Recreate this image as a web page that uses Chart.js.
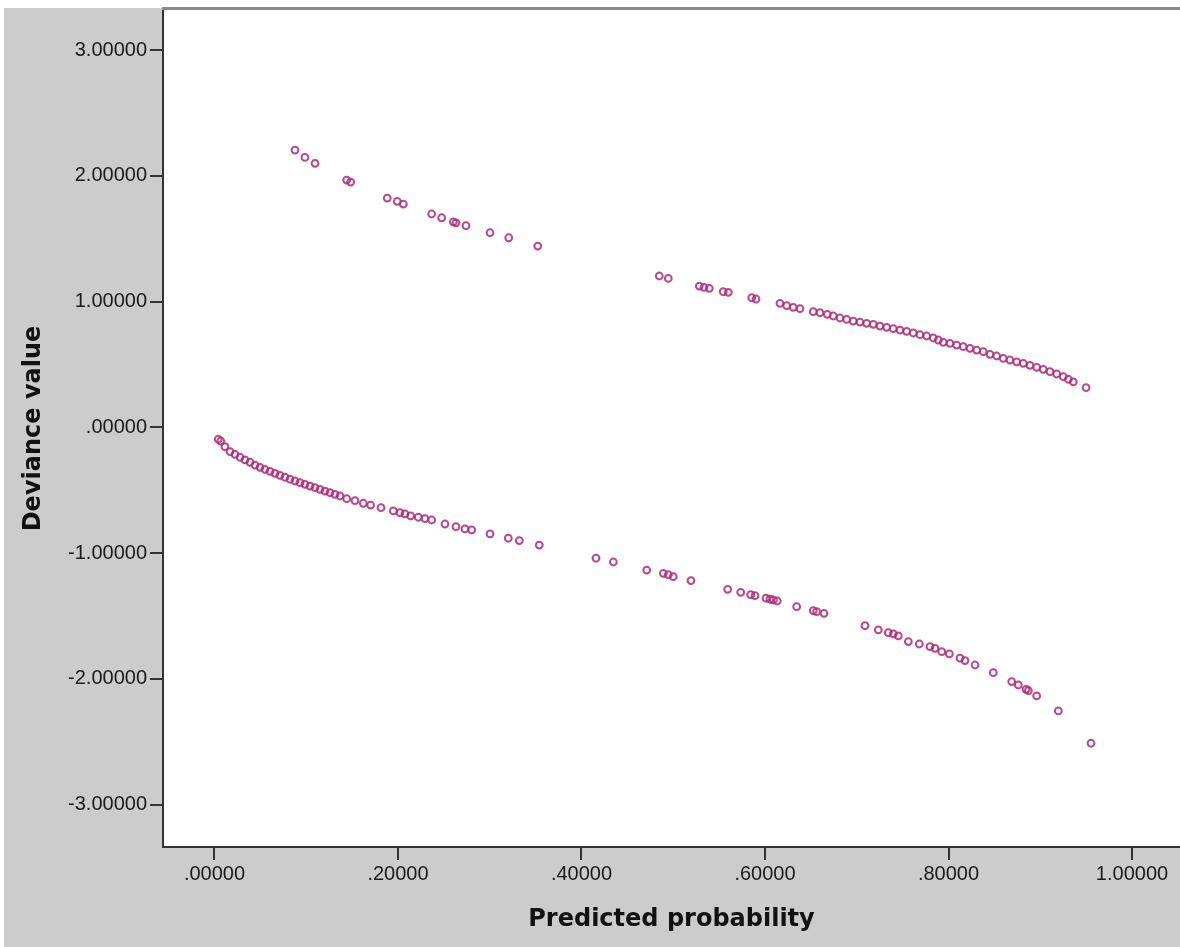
<!DOCTYPE html>
<html>
<head>
<meta charset="utf-8">
<script src="https://cdn.jsdelivr.net/npm/chart.js@4"></script>
<style>
  html, body { margin: 0; padding: 0; background: #ffffff; overflow: hidden; }
  #wrap { width: 1180px; height: 947px; position: relative; overflow: hidden; }
  canvas { display: block; }
</style>
</head>
<body>
<div id="wrap"><canvas id="myChart" width="1180" height="947"></canvas></div>
<script>
// observed = 1 cases (upper band)
const upperProb = [0.0877, 0.0986, 0.1096, 0.1441, 0.1484, 0.1883, 0.1992, 0.2058, 0.2367, 0.2476, 0.2603, 0.2632, 0.2741, 0.3003, 0.3207, 0.3523,
  0.4848, 0.4946, 0.5284, 0.5335, 0.5393, 0.5545, 0.5600, 0.5855, 0.5902, 0.6163, 0.6237, 0.6308, 0.6381,
  0.6526, 0.6599, 0.6679, 0.6744, 0.6817, 0.6890, 0.6962, 0.7035, 0.7108, 0.7180, 0.7253, 0.7326, 0.7398, 0.7471, 0.7544, 0.7616, 0.7689, 0.7762, 0.7834, 0.7889,
  0.7943, 0.8016, 0.8089, 0.8161, 0.8234, 0.8307, 0.8379, 0.8452, 0.8525, 0.8597, 0.8670, 0.8743, 0.8815, 0.8888, 0.8961, 0.9033, 0.9106, 0.9179, 0.9251, 0.9306, 0.9360, 0.9499];
const upperDev = [2.204, 2.146, 2.099, 1.966, 1.950, 1.823, 1.797, 1.775, 1.696, 1.666, 1.634, 1.626, 1.603, 1.547, 1.507, 1.441,
  1.203, 1.184, 1.123, 1.113, 1.105, 1.078, 1.073, 1.030, 1.020, 0.986, 0.967, 0.954, 0.943,
  0.919, 0.911, 0.898, 0.885, 0.869, 0.858, 0.845, 0.837, 0.827, 0.819, 0.805, 0.795, 0.784, 0.773, 0.763, 0.750, 0.736, 0.726, 0.710, 0.694,
  0.676, 0.668, 0.654, 0.641, 0.628, 0.614, 0.601, 0.580, 0.567, 0.548, 0.535, 0.521, 0.509, 0.493, 0.477, 0.461, 0.442, 0.424, 0.402, 0.382, 0.362, 0.315];

// observed = 0 cases (lower band)
const lowerProb = [0.0041, 0.0068, 0.0114, 0.0169, 0.0223, 0.0278, 0.0332, 0.0387, 0.0441, 0.0496, 0.0550, 0.0605, 0.0659, 0.0714, 0.0768, 0.0823, 0.0877, 0.0932, 0.0986, 0.1041, 0.1095, 0.1150, 0.1204, 0.1259, 0.1313, 0.1368,
  0.1441, 0.1531, 0.1622, 0.1702, 0.1815, 0.1949, 0.2022, 0.2076, 0.2138, 0.2221, 0.2294, 0.2367, 0.2512, 0.2632, 0.2730, 0.2803, 0.3003,
  0.3202, 0.3322, 0.3540, 0.4158, 0.4347, 0.4711, 0.4892, 0.4946, 0.5000,
  0.5193, 0.5593, 0.5735, 0.5844, 0.5891, 0.6011, 0.6054, 0.6090, 0.6134, 0.6345, 0.6526, 0.6563, 0.6643, 0.7090, 0.7235, 0.7344, 0.7398, 0.7453,
  0.7562, 0.7682, 0.7798, 0.7853, 0.7926, 0.8009, 0.8125, 0.8180, 0.8289, 0.8488, 0.8689, 0.8761, 0.8845, 0.8870, 0.8961, 0.9197, 0.9553];
const lowerDev = [-0.095, -0.109, -0.154, -0.194, -0.215, -0.238, -0.259, -0.278, -0.300, -0.318, -0.334, -0.350, -0.366, -0.382, -0.397, -0.413, -0.427, -0.440, -0.453, -0.467, -0.480, -0.493, -0.507, -0.520, -0.533, -0.546,
  -0.568, -0.583, -0.604, -0.618, -0.639, -0.665, -0.679, -0.689, -0.705, -0.715, -0.726, -0.737, -0.769, -0.790, -0.808, -0.816, -0.848,
  -0.882, -0.901, -0.936, -1.041, -1.071, -1.135, -1.161, -1.172, -1.188,
  -1.219, -1.288, -1.312, -1.331, -1.339, -1.359, -1.367, -1.373, -1.381, -1.426, -1.458, -1.466, -1.479, -1.577, -1.611, -1.633, -1.643, -1.659,
  -1.704, -1.723, -1.744, -1.757, -1.784, -1.802, -1.836, -1.855, -1.890, -1.951, -2.022, -2.049, -2.083, -2.094, -2.136, -2.255, -2.512];

const xTicks = [0, 0.2, 0.4, 0.6, 0.8, 1.0];
const yTicks = [-3, -2, -1, 0, 1, 2, 3];

const markerColor = "rgba(176, 40, 116, 0.85)";

function toPoints(xs, ys) {
  return xs.map((x, i) => ({ x: x, y: ys[i] }));
}

// SPSS style labels: ".20000", "1.00000", "-1.00000"
function spssLabel(v) {
  let s = Number(v).toFixed(5);
  if (s.startsWith("0.")) s = s.slice(1);
  if (s.startsWith("-0.")) s = "-" + s.slice(2);
  return s;
}

// no extra room for the end labels, the plot runs to the edges
function noPadding(scale) {
  scale.paddingTop = 0;
  scale.paddingBottom = 0;
  scale.paddingLeft = 0;
  scale.paddingRight = 0;
}

const frame = {
  id: "frame",
  beforeDraw(chart) {
    const { ctx, chartArea } = chart;
    ctx.save();
    ctx.fillStyle = "#ffffff";
    ctx.fillRect(0, 0, chart.width, chart.height);
    ctx.fillStyle = "#cccccc";
    ctx.fillRect(4, 8, chart.width - 4, chart.height - 8);
    ctx.fillStyle = "#ffffff";
    ctx.fillRect(chartArea.left, chartArea.top, chartArea.right - chartArea.left, chartArea.bottom - chartArea.top);
    ctx.restore();
  },
  afterDraw(chart) {
    const { ctx, chartArea } = chart;
    ctx.save();
    ctx.fillStyle = "#8a8a8a";
    ctx.fillRect(chartArea.left - 1, chartArea.top - 3, chartArea.right - chartArea.left + 1, 3);
    ctx.restore();
  },
};

const ctx = document.getElementById("myChart");
new Chart(ctx, {
  type: "scatter",
  data: {
    datasets: [
      {
        label: "upper",
        data: toPoints(upperProb, upperDev),
        borderColor: markerColor,
        backgroundColor: "rgba(0,0,0,0)",
        borderWidth: 2,
        pointRadius: 3.4,
      },
      {
        label: "lower",
        data: toPoints(lowerProb, lowerDev),
        borderColor: markerColor,
        backgroundColor: "rgba(0,0,0,0)",
        borderWidth: 2,
        pointRadius: 3.4,
      },
    ],
  },
  options: {
    responsive: false,
    animation: false,
    devicePixelRatio: 1,
    layout: { autoPadding: false, padding: { left: 0, right: 0, top: 10, bottom: 0 } },
    plugins: {
      legend: { display: false },
      tooltip: { enabled: false },
    },
    scales: {
      x: {
        type: "linear",
        min: -0.0561,
        max: 1.0523,
        afterFit: (scale) => { scale.height = 100; noPadding(scale); },
        afterBuildTicks: (scale) => { scale.ticks = xTicks.map((v) => ({ value: v })); },
        grid: { drawOnChartArea: false, drawTicks: true, tickLength: 13, tickColor: "#333333", lineWidth: 2 },
        border: { display: true, color: "#333333", width: 2 },
        ticks: {
          padding: 2,
          color: "#1a1a1a",
          font: { family: "Liberation Sans", size: 20 },
          maxRotation: 0,
          autoSkip: false,
          callback: (v) => spssLabel(v),
        },
        title: {
          display: true,
          text: "Predicted probability",
          color: "#111111",
          font: { family: "DejaVu Sans", size: 24, weight: "bold" },
          padding: { top: 0, bottom: 12.6 },
        },
      },
      y: {
        type: "linear",
        min: -3.337,
        max: 3.318,
        afterFit: (scale) => { scale.width = 163; noPadding(scale); },
        afterBuildTicks: (scale) => { scale.ticks = yTicks.map((v) => ({ value: v })); },
        grid: { drawOnChartArea: false, drawTicks: true, tickLength: 13, tickColor: "#333333", lineWidth: 2 },
        border: { display: true, color: "#333333", width: 2 },
        ticks: {
          padding: 3,
          color: "#1a1a1a",
          font: { family: "Liberation Sans", size: 20 },
          autoSkip: false,
          callback: (v) => spssLabel(v),
        },
        title: {
          display: true,
          text: "Deviance value",
          color: "#111111",
          font: { family: "DejaVu Sans", size: 24, weight: "bold" },
          padding: { top: 19, bottom: 0 },
        },
      },
    },
  },
  plugins: [frame],
});
</script>
</body>
</html>
